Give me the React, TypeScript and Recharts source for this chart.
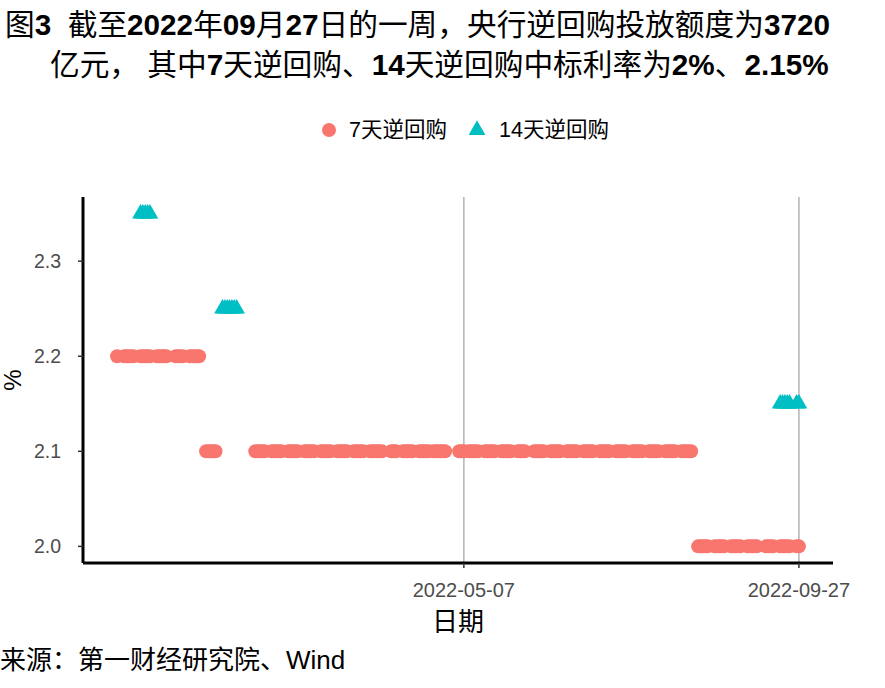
import React from 'react'
import {
  ScatterChart,
  Scatter,
  XAxis,
  YAxis,
  Legend,
  ReferenceLine,
  Label,
} from 'recharts'

// 7天逆回购 operation dates, grouped by winning rate (%)
const rate7dHigh = 2.2
const dates7dHigh = [
  '2021-12-10',
  '2021-12-13', '2021-12-14', '2021-12-15', '2021-12-16', '2021-12-17',
  '2021-12-20', '2021-12-21', '2021-12-22', '2021-12-23', '2021-12-24',
  '2021-12-27', '2021-12-28', '2021-12-29', '2021-12-30', '2021-12-31',
  '2022-01-04', '2022-01-05', '2022-01-06', '2022-01-07',
  '2022-01-10', '2022-01-11', '2022-01-12', '2022-01-13', '2022-01-14',
]

const rate7dMid = 2.1
const dates7dMid = [
  '2022-01-17', '2022-01-18', '2022-01-19', '2022-01-20', '2022-01-21',
  '2022-02-07', '2022-02-08', '2022-02-09', '2022-02-10', '2022-02-11',
  '2022-02-14', '2022-02-15', '2022-02-16', '2022-02-17', '2022-02-18',
  '2022-02-21', '2022-02-22', '2022-02-23', '2022-02-24', '2022-02-25',
  '2022-02-28', '2022-03-01', '2022-03-02', '2022-03-03', '2022-03-04',
  '2022-03-07', '2022-03-08', '2022-03-09', '2022-03-10', '2022-03-11',
  '2022-03-14', '2022-03-15', '2022-03-16', '2022-03-17', '2022-03-18',
  '2022-03-21', '2022-03-22', '2022-03-23', '2022-03-24', '2022-03-25',
  '2022-03-28', '2022-03-29', '2022-03-30', '2022-03-31', '2022-04-01', '2022-04-02',
  '2022-04-06', '2022-04-07', '2022-04-08',
  '2022-04-11', '2022-04-12', '2022-04-13', '2022-04-14', '2022-04-15',
  '2022-04-18', '2022-04-19', '2022-04-20', '2022-04-21', '2022-04-22',
  '2022-04-24', '2022-04-25', '2022-04-26', '2022-04-27', '2022-04-28', '2022-04-29',
  '2022-05-05', '2022-05-06', '2022-05-07',
  '2022-05-09', '2022-05-10', '2022-05-11', '2022-05-12', '2022-05-13',
  '2022-05-16', '2022-05-17', '2022-05-18', '2022-05-19', '2022-05-20',
  '2022-05-23', '2022-05-24', '2022-05-25', '2022-05-26', '2022-05-27',
  '2022-05-30', '2022-05-31', '2022-06-01', '2022-06-02',
  '2022-06-06', '2022-06-07', '2022-06-08', '2022-06-09', '2022-06-10',
  '2022-06-13', '2022-06-14', '2022-06-15', '2022-06-16', '2022-06-17',
  '2022-06-20', '2022-06-21', '2022-06-22', '2022-06-23', '2022-06-24',
  '2022-06-27', '2022-06-28', '2022-06-29', '2022-06-30', '2022-07-01',
  '2022-07-04', '2022-07-05', '2022-07-06', '2022-07-07', '2022-07-08',
  '2022-07-11', '2022-07-12', '2022-07-13', '2022-07-14', '2022-07-15',
  '2022-07-18', '2022-07-19', '2022-07-20', '2022-07-21', '2022-07-22',
  '2022-07-25', '2022-07-26', '2022-07-27', '2022-07-28', '2022-07-29',
  '2022-08-01', '2022-08-02', '2022-08-03', '2022-08-04', '2022-08-05',
  '2022-08-08', '2022-08-09', '2022-08-10', '2022-08-11', '2022-08-12',
]

const rate7dLow = 2.0
const dates7dLow = [
  '2022-08-15', '2022-08-16', '2022-08-17', '2022-08-18', '2022-08-19',
  '2022-08-22', '2022-08-23', '2022-08-24', '2022-08-25', '2022-08-26',
  '2022-08-29', '2022-08-30', '2022-08-31', '2022-09-01', '2022-09-02',
  '2022-09-05', '2022-09-06', '2022-09-07', '2022-09-08', '2022-09-09',
  '2022-09-13', '2022-09-14', '2022-09-15', '2022-09-16',
  '2022-09-19', '2022-09-20', '2022-09-21', '2022-09-22', '2022-09-23',
  '2022-09-26', '2022-09-27',
]

// 14天逆回购
const rate14dHigh = 2.35
const dates14dHigh = ['2021-12-20', '2021-12-21', '2021-12-22', '2021-12-23', '2021-12-24']

const rate14dMid = 2.25
const dates14dMid = [
  '2022-01-24', '2022-01-25', '2022-01-26', '2022-01-27', '2022-01-28', '2022-01-29', '2022-01-30',
]

const rate14dLow = 2.15
const dates14dLow = [
  '2022-09-19', '2022-09-20', '2022-09-21', '2022-09-22', '2022-09-23', '2022-09-26', '2022-09-27',
]

const xTickDates = ['2022-05-07', '2022-09-27']
const yTicks = [2.0, 2.1, 2.2, 2.3]

const titleLine1 = '图3  截至2022年09月27日的一周，央行逆回购投放额度为3720'
const titleLine2 = '亿元， 其中7天逆回购、14天逆回购中标利率为2%、2.15%'
const sourceText = '来源：第一财经研究院、Wind'

const FONT = '"Liberation Sans", Arial, "Noto Sans CJK SC", sans-serif'
const PINK = '#F8766D'
const CYAN = '#00BFC4'

const toT = (s: string) => {
  const [y, m, d] = s.split('-').map(Number)
  return Date.UTC(y, m - 1, d)
}
const fmt = (t: number) => new Date(t).toISOString().slice(0, 10)

const toPoints = (dates: string[], rate: number) => dates.map((d) => ({ t: toT(d), rate }))

const repo7d = [
  ...toPoints(dates7dHigh, rate7dHigh),
  ...toPoints(dates7dMid, rate7dMid),
  ...toPoints(dates7dLow, rate7dLow),
]
const repo14d = [
  ...toPoints(dates14dHigh, rate14dHigh),
  ...toPoints(dates14dMid, rate14dMid),
  ...toPoints(dates14dLow, rate14dLow),
]

// ggplot-style 5% expansion
const allT = [...repo7d, ...repo14d].map((p) => p.t)
const tMin = Math.min(...allT)
const tMax = Math.max(...allT)
const tPad = (tMax - tMin) * 0.05
const allR = [...repo7d, ...repo14d].map((p) => p.rate)
const rMin = Math.min(...allR)
const rMax = Math.max(...allR)
const rPad = (rMax - rMin) * 0.05

const CircleShape = (p: any) => <circle cx={p.cx} cy={p.cy} r={7} fill={PINK} />

const TriangleShape = (p: any) => {
  const r = 9.7
  const h = (r * Math.sqrt(3)) / 2
  return (
    <polygon
      points={`${p.cx},${p.cy - r} ${p.cx + h},${p.cy + r / 2} ${p.cx - h},${p.cy + r / 2}`}
      fill={CYAN}
    />
  )
}

// digits / % in the title are set bold
const boldDigits = (s: string) =>
  s.split(/([0-9.%]+)/).map((part, i) =>
    /^[0-9.%]+$/.test(part) ? (
      <span key={i} style={{ fontWeight: 'bold' }}>{part}</span>
    ) : (
      <span key={i}>{part}</span>
    ),
  )

const LegendContent = () => (
  <div style={{ position: 'relative', width: 885, height: 26, fontFamily: FONT }}>
    <svg width={885} height={26} style={{ position: 'absolute', left: 0, top: 0 }}>
      <circle cx={329} cy={13} r={7} fill={PINK} />
      <polygon points="477,3.3 485.4,18 468.6,18" fill={CYAN} />
      <text x={349} y={13} dominantBaseline="central" fontSize={21.5} fill="#000">7天逆回购</text>
      <text x={499} y={13} dominantBaseline="central" fontSize={21.5} fill="#000">14天逆回购</text>
    </svg>
  </div>
)

export default function App() {
  return (
    <div
      style={{
        position: 'absolute',
        left: 0,
        top: 0,
        width: 885,
        height: 688,
        background: '#fff',
        fontFamily: FONT,
      }}
    >
      <ScatterChart
        width={885}
        height={688}
        margin={{ top: 197, right: 52, bottom: 85, left: 23 }}
        style={{ fontFamily: FONT }}
      >
        <XAxis
          type="number"
          dataKey="t"
          domain={[tMin - tPad, tMax + tPad]}
          ticks={xTickDates.map(toT)}
          tickFormatter={fmt}
          allowDataOverflow
          height={40}
          tickSize={5}
          tickMargin={15}
          tick={{ fill: '#4d4d4d', fontSize: 20 }}
          tickLine={{ stroke: '#333333', strokeWidth: 1.5 }}
          axisLine={{ stroke: '#000', strokeWidth: 3 }}
        >
          <Label
            content={(props: any) => {
              const vb = props.viewBox
              return (
                <text
                  x={vb.x + vb.width / 2}
                  y={vb.y + 59}
                  textAnchor="middle"
                  dominantBaseline="central"
                  fontSize={26}
                  fill="#000"
                >
                  日期
                </text>
              )
            }}
          />
        </XAxis>
        <YAxis
          type="number"
          dataKey="rate"
          domain={[rMin - rPad, rMax + rPad]}
          ticks={yTicks}
          tickFormatter={(v: number) => v.toFixed(1)}
          allowDataOverflow
          width={60}
          tickSize={5}
          tickMargin={17}
          tick={{ fill: '#4d4d4d', fontSize: 19.5 }}
          tickLine={{ stroke: '#333333', strokeWidth: 1.5 }}
          axisLine={{ stroke: '#000', strokeWidth: 3 }}
        >
          <Label
            content={(props: any) => {
              const vb = props.viewBox
              const cx = 12
              const cy = vb.y + vb.height / 2
              return (
                <text
                  x={cx}
                  y={cy}
                  textAnchor="middle"
                  dominantBaseline="central"
                  fontSize={24}
                  fill="#000"
                  transform={`rotate(-90 ${cx} ${cy})`}
                >
                  %
                </text>
              )
            }}
          />
        </YAxis>
        <Legend
          layout="horizontal"
          verticalAlign="middle"
          align="center"
          wrapperStyle={{ top: 117, left: 0, width: 885, height: 26 }}
          content={<LegendContent />}
        />
        <Scatter
          name="7天逆回购"
          data={repo7d}
          shape={CircleShape}
          isAnimationActive={false}
        />
        <Scatter
          name="14天逆回购"
          data={repo14d}
          shape={TriangleShape}
          isAnimationActive={false}
        />
        {xTickDates.map((d) => (
          <ReferenceLine key={d} x={toT(d)} stroke="#b3b3b3" strokeWidth={1.5} />
        ))}
      </ScatterChart>

      <div
        style={{
          position: 'absolute',
          left: 5,
          top: 10,
          fontSize: 29.7,
          lineHeight: '30px',
          whiteSpace: 'pre',
          color: '#000',
        }}
      >
        {boldDigits(titleLine1)}
      </div>
      <div
        style={{
          position: 'absolute',
          left: 50,
          top: 50,
          fontSize: 29.7,
          lineHeight: '30px',
          whiteSpace: 'pre',
          color: '#000',
        }}
      >
        {boldDigits(titleLine2)}
      </div>
      <div
        style={{
          position: 'absolute',
          left: 0,
          top: 646,
          fontSize: 26,
          lineHeight: '28px',
          whiteSpace: 'pre',
          color: '#000',
        }}
      >
        {sourceText}
      </div>
    </div>
  )
}
